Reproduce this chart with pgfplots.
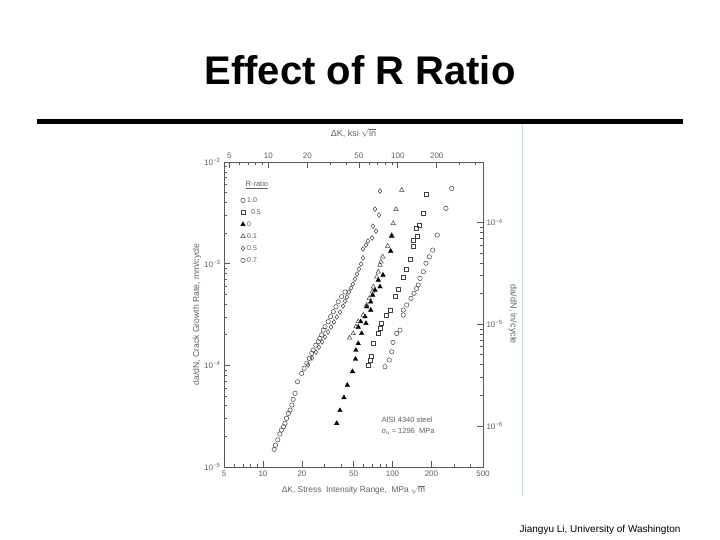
\documentclass[border=0pt]{standalone}
\usepackage{pgfplots}
\pgfplotsset{compat=1.18}
\usepackage{fontspec}
\setmainfont{Liberation Sans}
\definecolor{ink}{gray}{0.38}
\definecolor{axisgray}{gray}{0.35}
\definecolor{markgray}{gray}{0.25}
\definecolor{edgeblue}{RGB}{196,218,228}
\begin{document}
\begin{tikzpicture}
\path[use as bounding box] (0pt,0pt) rectangle (720pt,540pt);
\fill[white] (0pt,0pt) rectangle (720pt,540pt);
\node[font=\fontsize{40}{40}\selectfont\bfseries] at (360pt,470pt) {Effect of R Ratio};
\draw[line width=5pt] (37pt,418pt) -- (683pt,418pt);
\node[font=\fontsize{10}{12}\selectfont, anchor=east] at (684pt,10pt) {Jiangyu Li, University of Washington};
\draw[edgeblue, line width=1pt] (522pt,416pt) -- (522pt,44pt);

\begin{axis}[
  at={(224pt,73pt)}, anchor=south west, scale only axis,
  width=259pt, height=305pt,
  xmode=log, ymode=log,
  xmin=5, xmax=500, ymin=1e-5, ymax=1e-2,
  axis line style={axisgray, line width=0.9pt},
  tick style={axisgray, line width=0.6pt},
  tick align=inside,
  major tick length=6pt, minor tick length=3.5pt,
  xtick pos=bottom, ytick pos=left,
  xtick={5,10,20,50,100,200,500},
  xticklabels={5,10,20,50,100,200,500},
  minor xtick={6,7,8,9,30,40,60,70,80,90,300,400},
  ytick={1e-5,1e-4,1e-3,1e-2},
  yticklabels={10\textsuperscript{−5},10\textsuperscript{−4},10\textsuperscript{−3},10\textsuperscript{−2}},
  ticklabel style={font=\fontsize{8}{9}\selectfont, text=ink},
  xlabel={ΔK,\ Stress\ \ Intensity\ Range,\ \ MPa $\sqrt{\mbox{m}}$},
  xlabel style={at={(axis description cs:0.5,-0.075)}, anchor=center, font=\fontsize{8.4}{9}\selectfont, text=ink},
  ylabel={da/dN, Crack Growth Rate, mm/cycle},
  ylabel style={at={(axis description cs:-0.105,0.5)}, anchor=center, font=\fontsize{8.6}{9}\selectfont, text=ink},
  legend style={at={(axis description cs:0.06,0.895)}, anchor=north west, draw=none, fill=none,
     font=\fontsize{7}{8}\selectfont, text=ink, row sep=1.6pt, inner sep=1pt},
  legend cell align=left,
  clip=false,
]
\addplot[only marks, mark=o, mark size=2.2pt, markgray, line width=0.5pt] table {
286.4 5.50e-3
258.8 3.50e-3
221.8 1.91e-3
204.2 1.36e-3
192.3 1.17e-3
181.4 1.01e-3
173.0 8.33e-4
163.1 7.17e-4
158.1 6.16e-4
153.8 5.72e-4
146.5 5.11e-4
139.0 4.56e-4
128.8 3.92e-4
121.1 3.50e-4
121.1 3.13e-4
114.3 2.22e-4
107.7 2.06e-4
100.9 1.68e-4
98.6 1.36e-4
94.4 1.13e-4
87.5 9.69e-5
};
\addlegendentry{1.0}
\addplot[only marks, mark=square, mark size=2.0pt, markgray, line width=0.5pt] table {
181.4 4.83e-3
173.0 3.12e-3
161.1 2.40e-3
151.8 2.22e-3
155.4 1.84e-3
144.7 1.71e-3
144.7 1.47e-3
136.5 1.11e-3
128.8 8.85e-4
121.1 7.43e-4
110.9 5.63e-4
104.5 4.73e-4
95.7 3.50e-4
90.2 3.13e-4
82.5 2.59e-4
81.1 2.31e-4
77.7 2.06e-4
70.6 1.64e-4
69.0 1.24e-4
67.0 1.13e-4
65.0 1.01e-4
};
\addlegendentry{\ \ 0.5}
\addplot[only marks, mark=triangle*, mark size=2.6pt, black] table {
98.6 1.87e-3
96.8 1.33e-3
84.5 7.73e-4
77.7 6.90e-4
80.1 5.93e-4
73.3 5.50e-4
70.3 4.91e-4
67.9 4.22e-4
63.2 3.77e-4
67.9 3.50e-4
61.4 3.01e-4
56.8 2.69e-4
62.4 2.59e-4
54.4 2.38e-4
57.8 2.06e-4
54.4 1.64e-4
52.2 1.41e-4
51.8 1.15e-4
49.1 8.69e-5
44.8 6.40e-5
42.2 4.82e-5
39.3 3.60e-5
37.1 2.69e-5
};
\addlegendentry{0}
\addplot[only marks, mark=triangle, mark size=2.6pt, markgray, line width=0.5pt] table {
117.8 5.29e-3
106.4 3.42e-3
101.4 2.49e-3
98.6 1.91e-3
91.8 1.49e-3
84.0 1.17e-3
81.5 1.04e-3
80.1 9.69e-4
77.7 8.33e-4
75.5 7.43e-4
71.1 5.93e-4
69.8 5.30e-4
66.2 4.56e-4
63.2 3.92e-4
59.5 3.13e-4
54.4 2.69e-4
52.2 2.40e-4
49.8 2.06e-4
46.6 1.86e-4
};
\addlegendentry{0.1}
\addplot[only marks, mark=diamond, mark size=2.4pt, markgray, line width=0.5pt] table {
22.3 1.01e-4
23.9 1.18e-4
25.6 1.35e-4
27.0 1.51e-4
28.6 1.70e-4
30.1 1.90e-4
31.8 2.13e-4
33.5 2.38e-4
35.3 2.67e-4
37.2 2.99e-4
39.3 3.34e-4
41.5 3.83e-4
43.0 4.29e-4
44.5 4.70e-4
46.1 5.26e-4
47.8 5.76e-4
49.5 6.30e-4
51.3 7.06e-4
53.2 7.90e-4
55.1 8.85e-4
57.1 9.91e-4
59.2 1.14e-3
59.2 1.39e-3
62.4 1.52e-3
64.7 1.67e-3
69.5 1.79e-3
70.6 2.34e-3
74.6 2.09e-3
73.3 3.44e-3
78.7 3.01e-3
80.1 5.18e-3
};
\addlegendentry{0.5}
\addplot[only marks, mark=o, mark size=2.2pt, markgray, line width=0.5pt] table {
12.2 1.49e-5
12.5 1.64e-5
13.0 1.85e-5
13.5 2.11e-5
13.9 2.31e-5
14.4 2.49e-5
14.8 2.69e-5
15.2 3.01e-5
15.7 3.37e-5
16.2 3.63e-5
16.7 4.07e-5
17.1 4.63e-5
17.7 5.31e-5
18.5 6.90e-5
19.9 8.34e-5
20.8 9.35e-5
21.8 1.05e-4
22.8 1.17e-4
23.8 1.31e-4
24.4 1.41e-4
25.6 1.58e-4
26.7 1.71e-4
27.5 1.84e-4
28.4 1.99e-4
29.2 2.22e-4
30.1 2.40e-4
31.9 2.69e-4
33.3 3.01e-4
34.9 3.37e-4
36.6 3.77e-4
38.1 4.22e-4
40.5 4.73e-4
43.0 5.26e-4
};
\addlegendentry{0.7}
\node[anchor=west, font=\fontsize{7.5}{9}\selectfont, text=ink] at (axis description cs:0.07,0.925) {\underline{R-ratio}};
\node[anchor=west, font=\fontsize{7.5}{9}\selectfont, text=ink] at (axis description cs:0.595,0.155) {AISI 4340 steel};
\node[anchor=west, font=\fontsize{7.5}{9}\selectfont, text=ink] at (axis description cs:0.595,0.118) {σ\textsubscript{u} = 1296\ \ MPa};
\end{axis}

\begin{axis}[
  at={(224pt,73pt)}, anchor=south west, scale only axis,
  width=259pt, height=305pt,
  xmode=log, ymode=log,
  xmin=4.5503, xmax=455.03, ymin=3.937e-7, ymax=3.937e-4,
  axis x line*=top, axis y line*=right,
  axis line style={axisgray, line width=0.9pt},
  tick style={axisgray, line width=0.6pt},
  tick align=inside,
  major tick length=6pt, minor tick length=3.5pt,
  xtick={5,10,20,50,100,200},
  xticklabels={5,10,20,50,100,200},
  minor xtick={6,7,8,9,30,40,60,70,80,90,300,400},
  ytick={1e-6,1e-5,1e-4},
  yticklabels={10\textsuperscript{−6},10\textsuperscript{−5},10\textsuperscript{−4}},
  ticklabel style={font=\fontsize{8}{9}\selectfont, text=ink},
  xlabel={ΔK,\ ksi $\sqrt{\mbox{in}}$},
  xlabel style={at={(axis description cs:0.5,1.095)}, anchor=center, font=\fontsize{9}{10}\selectfont, text=ink},
  ylabel={da/dN, in/cycle},
  ylabel style={at={(axis description cs:1.116,0.5)}, anchor=center, rotate=180, font=\fontsize{9}{10}\selectfont, text=ink},
]
\addplot[draw=none, forget plot] coordinates {(10,1e-5)};
\end{axis}
\end{tikzpicture}
\end{document}
